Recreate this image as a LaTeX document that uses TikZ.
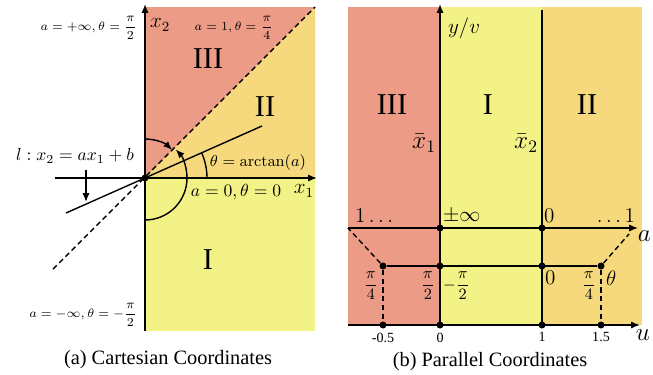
\documentclass[tikz,border=0pt]{standalone}
\usepackage{amsmath}
\usepackage[no-math]{fontspec}
\setmainfont{Liberation Serif}
\usetikzlibrary{arrows.meta}
\definecolor{regI}{HTML}{F2F286}
\definecolor{regII}{HTML}{F5D97C}
\definecolor{regIII}{HTML}{EC9B87}
\begin{document}
\begin{tikzpicture}[x=0.57pt,y=0.57pt,>={Latex[length=5pt,width=4pt]},
  dot/.style={circle,fill,inner sep=0pt,minimum size=4pt},
  roman/.style={font=\LARGE},
  note/.style={font=\scriptsize,inner sep=1pt},
  frac/.style={font=\small,inner sep=1pt},
  tick/.style={font=\footnotesize,below,inner sep=2pt}]
\useasboundingbox (0,0) rectangle (653,374);
% (a) Cartesian Coordinates
\coordinate (O) at (145,196);
\fill[regIII] (145,367) -- (315,367) -- (O) -- cycle;
\fill[regII] (315,367) -- (315,196) -- (O) -- cycle;
\fill[regI] (145,196) rectangle (315,43);
\coordinate (x1end) at (317,196);
\coordinate (x2end) at (145,370);
\draw[->,thick] (55,196) -- (x1end);
\draw[->,thick] (145,43) -- (x2end);
\coordinate (diagA) at (53,105);
\coordinate (diagB) at (315,367);
\draw[thick,dashed,dash pattern=on 3pt off 2pt] (diagA) -- (diagB);
\coordinate (lA) at (66,161);
\coordinate (lB) at (262,248);
\draw[thick] (lA) -- (lB);
\node[dot] (orig) at (O) {};
\draw[->,thick] ([shift={(90:39)}]O) arc[start angle=90,end angle=46,radius=39];
\draw[->,thick] ([shift={(-90:42)}]O) arc[start angle=-90,end angle=43,radius=42];
\draw[thick] ([shift={(0:62)}]O) arc[start angle=0,end angle=24,radius=62];
\node (llab) at (75,218) {$l: x_2 = ax_1 + b$};
\coordinate (lfoot) at (86,172);
\draw[->,thick] (llab.south -| lfoot) -- (lfoot);
\node[font=\small] (thlab) at (258,211) {$\theta=\arctan(a)$};
\node[note,anchor=east] (top) at (139,346) {$a=+\infty,\theta=\dfrac{\pi}{2}$};
\node[note,anchor=east] (bot) at (139,59) {$a=-\infty,\theta=-\dfrac{\pi}{2}$};
\node[note] (diag) at (234,346) {$a=1,\theta=\dfrac{\pi}{4}$};
\node (zero) at (236,182) {$a=0,\theta=0$};
\node[font=\large,anchor=west,inner sep=1pt] (x2lab) at (148,349) {$x_2$};
\node[font=\large] (x1lab) at (304,183) {$x_1$};
\node[roman] (cIII) at (208,315) {III};
\node[roman] (cII) at (265,267) {II};
\node[roman] (cI) at (208,114) {I};
\node[font=\fontsize{11.6}{14}\selectfont] (capa) at (168,14) {(a) Cartesian Coordinates};
% (b) Parallel Coordinates
\fill[regIII] (348,49) rectangle (440,367);
\fill[regI] (440,49) rectangle (542,367);
\fill[regII] (542,49) rectangle (642,367);
\coordinate (yend) at (440,370);
\coordinate (ubase) at (440,49);
\draw[->,thick] (ubase) -- (yend);
\coordinate (xbtop) at (542,364);
\coordinate (xbbase) at (542,49);
\draw[thick] (xbbase) -- (xbtop);
\node[font=\large,anchor=west] (yv) at (442,346) {$y/v$};
\node[font=\Large,anchor=east,inner sep=1pt] (xb1) at (438,231) {$\bar{x}_1$};
\node[font=\Large,anchor=east,inner sep=1pt] (xb2) at (540,231) {$\bar{x}_2$};
\node[roman] (pIII) at (392,269) {III};
\node[roman] (pI) at (488,269) {I};
\node[roman] (pII) at (587,269) {II};
% a-axis
\coordinate (aleft) at (348,146);
\coordinate (aend) at (638,146);
\draw[->,thick] (aleft) -- (aend);
\node[dot] (ainf) at (440,146) {};
\node[dot] (azero) at (542,146) {};
\node[font=\Large,anchor=north east,inner sep=1pt] (alab) at (653,145) {$a$};
\node[font=\large,anchor=south west,inner sep=1pt] (aone) at (353,149) {$1\ldots$};
\node[font=\large,anchor=south west,inner sep=1pt] (apm) at (441,149) {$\pm\infty$};
\node[font=\large,anchor=south west,inner sep=1pt] (az) at (542,149) {$0$};
\node[font=\large,anchor=south east,inner sep=1pt] (aonep) at (637,149) {$\ldots1$};
% theta line
\node[dot] (tq) at (383,108) {};
\node[dot] (th) at (440,108) {};
\node[dot] (tz) at (542,108) {};
\node[dot] (tqq) at (601,108) {};
\draw[thick] (tq) -- (tqq);
\coordinate (tdir) at (629,140);
\draw[thick,dashed,dash pattern=on 3pt off 2pt] (tq) -- (aleft);
\draw[thick,dashed,dash pattern=on 3pt off 2pt] (tqq) -- (tdir);
\node[frac,anchor=north east] (tq1) at (380,104) {$\dfrac{\pi}{4}$};
\node[frac,anchor=north east] (th1) at (437,104) {$\dfrac{\pi}{2}$};
\node[frac,anchor=north west] (th2) at (441,104) {$-\dfrac{\pi}{2}$};
\node[font=\large,anchor=north west,inner sep=1pt] (tz1) at (543,105) {$0$};
\node[frac,anchor=north east] (tqq1) at (598,104) {$\dfrac{\pi}{4}$};
\node[font=\large,anchor=north west,inner sep=1pt] (thlabb) at (604,105) {$\theta$};
% u-axis
\coordinate (uleft) at (348,49);
\coordinate (uend) at (640,49);
\draw[->,thick] (uleft) -- (uend);
\node[dot] (um) at (383,49) {};
\node[dot] (u0) at (440,49) {};
\node[dot] (u1) at (542,49) {};
\node[dot] (u15) at (601,49) {};
\draw[thick,dashed,dash pattern=on 3pt off 2pt] (tq) -- (um);
\draw[thick,dashed,dash pattern=on 3pt off 2pt] (tqq) -- (u15);
\node[tick] at (um.south) {-0.5};
\node[tick] at (u0.south) {0};
\node[tick] at (u1.south) {1};
\node[tick] at (u15.south) {1.5};
\node[font=\Large,anchor=north east,inner sep=1pt] (ulab) at (652,46) {$u$};
\node[font=\fontsize{11.6}{14}\selectfont] (capb) at (490,12) {(b) Parallel Coordinates};
\end{tikzpicture}
\end{document}
